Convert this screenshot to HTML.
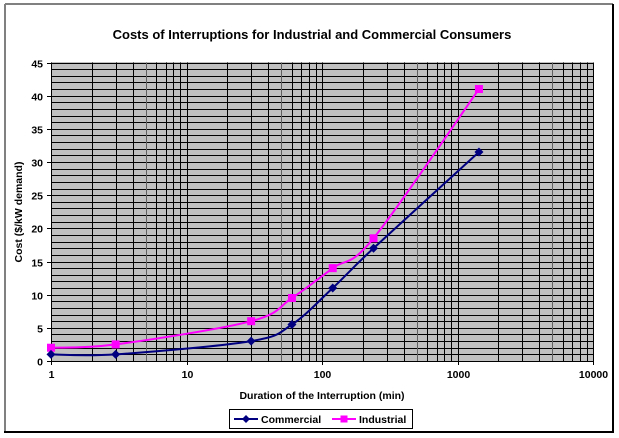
<!DOCTYPE html>
<html><head><meta charset="utf-8"><style>
html,body{margin:0;padding:0;background:#fff;}
svg{display:block;font-family:"Liberation Sans",Arial,sans-serif;}
</style></head><body>
<svg id="s" width="619" height="438" viewBox="0 0 619 438" xmlns="http://www.w3.org/2000/svg">
<rect x="0" y="0" width="619" height="438" fill="#fff"/>
<line x1="5" y1="4" x2="613" y2="4" stroke="#808080" stroke-width="2"/>
<line x1="5" y1="4" x2="5" y2="432" stroke="#808080" stroke-width="2"/>
<line x1="4" y1="432" x2="614" y2="432" stroke="#000" stroke-width="2"/>
<line x1="613" y1="4" x2="613" y2="433" stroke="#000" stroke-width="2"/>
<text x="312" y="39" text-anchor="middle" font-size="13" font-weight="bold">Costs of Interruptions for Industrial and Commercial Consumers</text>
<rect x="51" y="62" width="542" height="299" fill="#c0c0c0"/>
<g id="grid" shape-rendering="crispEdges"></g>
<g id="series"></g>
<text transform="translate(22,212) rotate(-90)" text-anchor="middle" font-size="10.5" font-weight="bold">Cost ($/kW demand)</text>
<text x="322" y="399" text-anchor="middle" font-size="10.5" font-weight="bold">Duration of the Interruption (min)</text>
<rect x="229.5" y="409.5" width="183" height="19" fill="#fff" stroke="#000" stroke-width="1"/>
<line x1="234" y1="419" x2="258" y2="419" stroke="#000080" stroke-width="2"/>
<path d="M246 415 L250 419 L246 423 L242 419 Z" fill="#000080"/>
<text x="261" y="423" font-size="10.5" font-weight="bold">Commercial</text>
<line x1="332" y1="419" x2="356" y2="419" stroke="#ff00ff" stroke-width="2"/>
<rect x="340.5" y="415.5" width="7" height="7" fill="#ff00ff"/>
<text x="359" y="423" font-size="10.5" font-weight="bold">Industrial</text>
</svg>
<script>
var NS="http://www.w3.org/2000/svg";
function el(t,a,p){var e=document.createElementNS(NS,t);for(var k in a)e.setAttribute(k,a[k]);(p||document.getElementById('s')).appendChild(e);return e;}
var L=51,R=593,T=62.5,B=361;
function X(v){return L+135.5*Math.log10(v);}
function Y(v){return B-(B-T)/45*v;}
function sn(v){return Math.round(v)+0.5;}
var g=document.getElementById('grid');
for(var i=0;i<=45;i++){var y=sn(Y(i));el('line',{x1:L,x2:R,y1:y,y2:y,stroke:'#000','stroke-width':1},g);}
for(var d=0;d<4;d++){for(var m=1;m<=9;m++){var x=sn(X(m*Math.pow(10,d)));el('line',{x1:x,x2:x,y1:T,y2:B,stroke:m==5?'#606060':'#000','stroke-width':1},g);}}
el('line',{x1:sn(R),x2:sn(R),y1:T,y2:B,stroke:'#000'},g);
for(var i=0;i<=45;i+=5){var y=sn(Y(i));el('line',{x1:L-4,x2:L,y1:y,y2:y,stroke:'#000'},g);var t=el('text',{x:43,y:y+4,'text-anchor':'end','font-size':10.5,'font-weight':'bold'},g);t.textContent=i;}
var xl=[1,10,100,1000,10000];
for(var i=0;i<5;i++){var x=sn(X(xl[i]));el('line',{x1:x,x2:x,y1:B,y2:B+4,stroke:'#000'},g);var t=el('text',{x:x,y:B+17,'text-anchor':'middle','font-size':10.5,'font-weight':'bold'},g);t.textContent=xl[i];}
var xs=[1,3,30,60,120,240,1440];
var com=[1,1,3,5.5,11,17,31.5], ind=[2,2.5,6,9.5,14,18.5,41];
function path(vals){var p=xs.map(function(v,i){return [X(v),Y(vals[i])];});
var d='M'+p[0][0]+' '+p[0][1];
for(var i=0;i<p.length-1;i++){var p0=p[i-1]||p[i],p1=p[i],p2=p[i+1],p3=p[i+2]||p2;var t=1/6;
d+=' C'+(p1[0]+(p2[0]-p0[0])*t)+' '+(p1[1]+(p2[1]-p0[1])*t)+' '+(p2[0]-(p3[0]-p1[0])*t)+' '+(p2[1]-(p3[1]-p1[1])*t)+' '+p2[0]+' '+p2[1];}
return [d,p];}
var s=document.getElementById('series');
var a=path(ind);el('path',{d:a[0],fill:'none',stroke:'#ff00ff','stroke-width':2},s);
a[1].forEach(function(q){el('rect',{x:q[0]-4,y:q[1]-4,width:8,height:8,fill:'#ff00ff'},s);});
var b=path(com);el('path',{d:b[0],fill:'none',stroke:'#000080','stroke-width':2},s);
b[1].forEach(function(q){el('path',{d:'M'+q[0]+' '+(q[1]-4.5)+' L'+(q[0]+4.5)+' '+q[1]+' L'+q[0]+' '+(q[1]+4.5)+' L'+(q[0]-4.5)+' '+q[1]+' Z',fill:'#000080'},s);});
</script>
</body></html>
